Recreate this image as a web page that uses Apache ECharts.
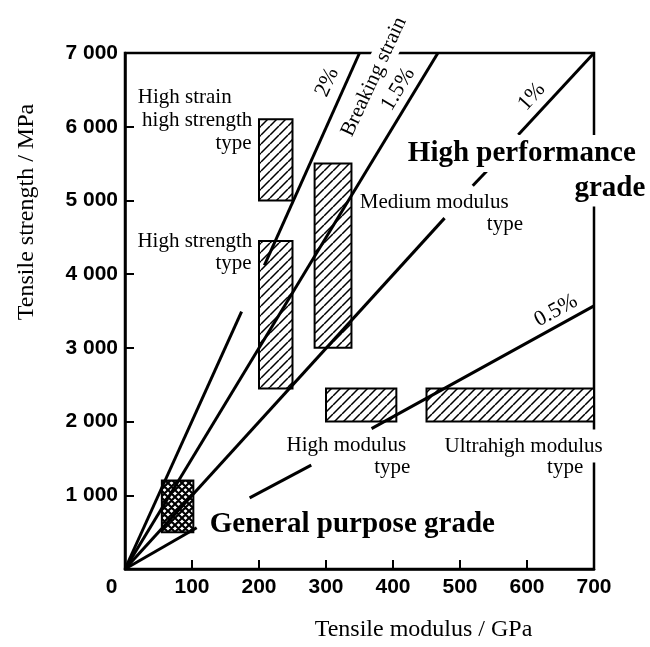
<!DOCTYPE html>
<html>
<head>
<meta charset="utf-8">
<script src="https://cdn.jsdelivr.net/npm/echarts@6/dist/echarts.min.js"></script>
<style>html,body{margin:0;padding:0;background:#fff}#chart{width:650px;height:647px}</style>
</head>
<body>
<div id="chart"></div>
<script>
// ---------- data ----------
// Tensile modulus ticks (GPa) and tensile strength ticks (MPa)
const modulusTicks = [0, 100, 200, 300, 400, 500, 600, 700];
const strengthTicks = [0, 1000, 2000, 3000, 4000, 5000, 6000, 7000];

// Fibre-type regions: modulus range (GPa) and strength range (MPa)
const boxNames        = ['High strain high strength type', 'High strength type', 'Medium modulus type', 'High modulus type', 'Ultrahigh modulus type', 'General purpose grade'];
const boxModulusMin   = [200, 200, 283, 300, 450, 55];
const boxModulusMax   = [250, 250, 338, 405, 700, 102];
const boxStrengthMin  = [5000, 2450, 3000, 2000, 2000, 500];
const boxStrengthMax  = [6100, 4450, 5500, 2450, 2450, 1200];
const boxHatch        = ['single', 'single', 'single', 'single', 'single', 'cross'];

// Breaking-strain lines, visible segments [modulus, strength]
const strain2pct  = [[[0, 0], [174, 3490]], [[208, 4120], [350, 7000]]];
const strain15pct = [[[0, 0], [467, 7000]]];
const strain1pct  = [[[0, 0], [477, 4760]], [[519, 5200], [540, 5400]], [[587, 5890], [700, 7000]]];
const strain05pct = [[[0, 0], [107, 560]], [[186, 965], [278, 1410]], [[368, 1905], [700, 3570]]];

// Annotations: text, anchor modulus, anchor strength
const noteTexts    = ['High strain', 'high strength', 'type', 'High strength', 'type', 'Medium modulus', 'type', 'High modulus', 'type', 'Ultrahigh modulus', 'type'];
const noteModulus  = [19, 190, 189, 190, 189, 350.5, 594, 241, 426, 472.5, 684];
const noteStrength = [6402, 6080, 5772, 4439, 4138, 4966, 4675, 1671, 1372, 1667, 1372];

const gradeTexts    = ['High performance', 'grade', 'General purpose grade'];
const gradeModulus  = [417.7, 781, 122];
const gradeStrength = [5636, 5167, 607];

const strainTexts    = ['2%', 'Breaking strain', '1.5%', '1%', '0.5%'];
const strainModulus  = [302, 371.7, 407.7, 607, 643.2];
const strainStrength = [6602, 6676, 6508, 6407, 3504];

// ---------- styles ----------
const SERIF = '"Liberation Serif", "Times New Roman", serif';
const SANS = '"Liberation Sans", Arial, sans-serif';
const noteAlign = ['left', 'right', 'right', 'right', 'right', 'left', 'right', 'left', 'right', 'left', 'right'];
const noteBg    = [false, false, false, false, false, false, false, false, false, true, false];
const gradeAlign = ['left', 'right', 'left'];
const strainRotate = [65.8, 65, 59, 48, 29];
const strainBg = [false, true, false, false, false];

function makePattern(kind) {
  const c = document.createElement('canvas');
  const s = kind === 'cross' ? 7 : 9;
  c.width = s; c.height = s;
  const g = c.getContext('2d');
  g.fillStyle = '#fff';
  g.fillRect(0, 0, s, s);
  g.strokeStyle = '#000';
  g.lineWidth = kind === 'cross' ? 2.2 : 1.5;
  g.beginPath();
  for (const k of [-s, 0, s]) {
    g.moveTo(k, s); g.lineTo(k + s, 0);
    if (kind === 'cross') { g.moveTo(k, 0); g.lineTo(k + s, s); }
  }
  g.stroke();
  return { image: c, repeat: 'repeat' };
}
const patterns = { single: makePattern('single'), cross: makePattern('cross') };

// ---------- series ----------
const series = [];

series.push({
  type: 'custom',
  silent: true,
  z: 2,
  clip: false,
  data: boxNames.map((n, i) => [boxModulusMin[i], boxModulusMax[i], boxStrengthMin[i], boxStrengthMax[i]]),
  encode: { x: [0, 1], y: [2, 3] },
  renderItem: function (params, api) {
    const i = params.dataIndex;
    const p0 = api.coord([api.value(0), api.value(3)]);
    const p1 = api.coord([api.value(1), api.value(2)]);
    return {
      type: 'rect',
      shape: { x: p0[0], y: p0[1], width: p1[0] - p0[0], height: p1[1] - p0[1] },
      style: { fill: patterns[boxHatch[i]], stroke: '#000', lineWidth: 2 }
    };
  }
});

[strain2pct, strain15pct, strain1pct, strain05pct].forEach(segs => {
  segs.forEach(seg => {
    series.push({
      type: 'line', data: seg, symbol: 'none', silent: true, z: 3,
      lineStyle: { color: '#000', width: 3 }
    });
  });
});

const labelData = [];
noteTexts.forEach((t, i) => {
  labelData.push({
    value: [noteModulus[i], noteStrength[i]],
    label: {
      formatter: t, align: noteAlign[i], verticalAlign: 'middle',
      fontFamily: SERIF, fontSize: 21, color: '#000', textBorderWidth: 0,
      backgroundColor: noteBg[i] ? '#fff' : 'transparent', padding: noteBg[i] ? [6, 3] : 0
    }
  });
});
gradeTexts.forEach((t, i) => {
  labelData.push({
    value: [gradeModulus[i], gradeStrength[i]],
    label: {
      formatter: t, align: gradeAlign[i], verticalAlign: 'middle',
      fontFamily: SERIF, fontSize: 29, fontWeight: 'bold', color: '#000', textBorderWidth: 0,
      backgroundColor: '#fff', padding: [4, 3]
    }
  });
});
strainTexts.forEach((t, i) => {
  labelData.push({
    value: [strainModulus[i], strainStrength[i]],
    label: {
      formatter: t, align: 'center', verticalAlign: 'middle', rotate: strainRotate[i],
      fontFamily: SERIF, fontSize: i === 1 ? 21 : 22, color: '#000', textBorderWidth: 0,
      backgroundColor: strainBg[i] ? '#fff' : 'transparent', padding: strainBg[i] ? [2, 3] : 0
    }
  });
});

series.push({
  type: 'scatter', symbolSize: 0, silent: true, clip: false, z: 10,
  itemStyle: { opacity: 1, color: '#000' },
  data: labelData,
  label: { show: true, position: 'inside', color: '#000', textBorderWidth: 0, opacity: 1 },
  labelLayout: { hideOverlap: false }
});

// ---------- chart ----------
const chart = echarts.init(document.getElementById('chart'));
chart.setOption({
  animation: false,
  backgroundColor: '#fff',
  grid: { left: 125, right: 56, top: 53, bottom: 72, show: true, borderColor: '#000', borderWidth: 2.5 },
  xAxis: {
    type: 'value', min: modulusTicks[0], max: modulusTicks[modulusTicks.length - 1], interval: 100,
    name: 'Tensile modulus / GPa', nameLocation: 'middle', nameGap: 49,
    nameTextStyle: { fontFamily: SERIF, fontSize: 24, color: '#000', padding: [0, 0, 0, 128] },
    axisLine: { lineStyle: { color: '#000', width: 2.5 } },
    axisTick: { inside: true, length: 9, lineStyle: { color: '#000', width: 2 } },
    splitLine: { show: false },
    axisLabel: {
      margin: 8, color: '#000', fontFamily: SANS, fontWeight: 'bold', fontSize: 21,
      formatter: v => v === 0 ? '{z|0}' : String(v),
      rich: { z: { fontFamily: SANS, fontWeight: 'bold', fontSize: 21, color: '#000', padding: [0, 27, 0, 0] } }
    }
  },
  yAxis: {
    type: 'value', min: strengthTicks[0], max: strengthTicks[strengthTicks.length - 1], interval: 1000,
    name: 'Tensile strength / MPa', nameLocation: 'middle', nameGap: 86, nameRotate: 90,
    nameTextStyle: { fontFamily: SERIF, fontSize: 24, color: '#000', padding: [0, 0, 0, 198] },
    axisLine: { lineStyle: { color: '#000', width: 2.5 } },
    axisTick: { inside: true, length: 9, lineStyle: { color: '#000', width: 2 } },
    splitLine: { show: false },
    axisLabel: {
      margin: 7, color: '#000', fontFamily: SANS, fontWeight: 'bold', fontSize: 21,
      formatter: v => v === 0 ? '' : (v / 1000) + ' 000'
    }
  },
  series: series
});
</script>
</body>
</html>
